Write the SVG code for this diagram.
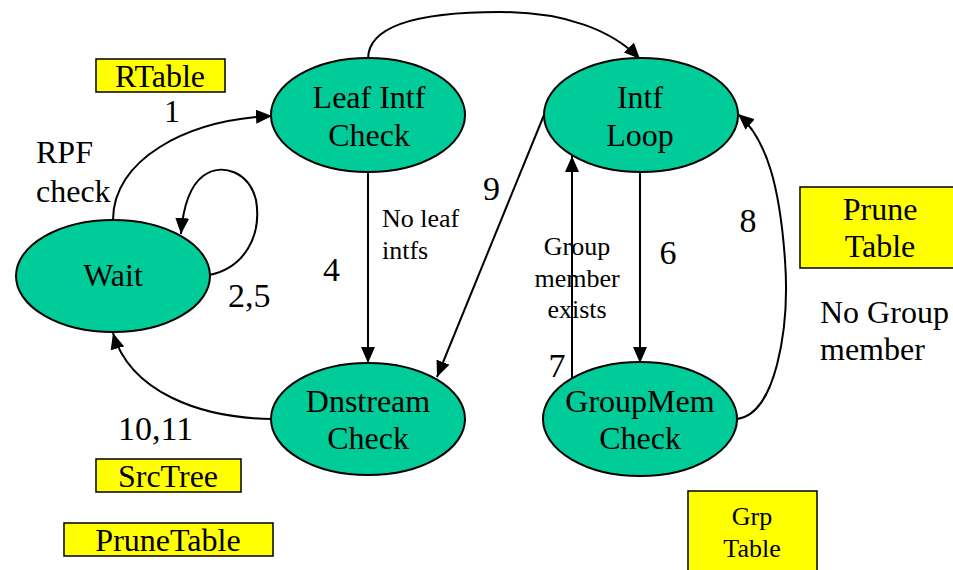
<svg xmlns="http://www.w3.org/2000/svg" width="953" height="570" viewBox="0 0 953 570">
  <style>
    .state { fill: #00CC99; stroke: #000; stroke-width: 2; }
    .table { fill: #FFFF00; stroke: #000; stroke-width: 1.5; }
    .edge { fill: none; stroke: #000; stroke-width: 2; marker-end: url(#arrow); }
    text { font-family: "Liberation Serif", "Times New Roman", serif; fill: #000; }
    .num { font-size: 34px; }
    .big { font-size: 32px; }
    .small { font-size: 26px; }
    .c { text-anchor: middle; }
  </style>
  <defs>
    <marker id="arrow" viewBox="0 0 16 14" refX="16" refY="7" markerWidth="16" markerHeight="14" markerUnits="userSpaceOnUse" orient="auto">
      <path d="M0,0 L16,7 L0,14 Z" fill="#000"/>
    </marker>
  </defs>

  <rect width="953" height="570" fill="#fff"/>

  <!-- transitions -->
  <g id="connectors">
    <path class="edge" d="M113,220 C113,160 185,120 272,116"/>
    <path class="edge" d="M209,275 C245,268 262,235 256,200 C249,172 222,162 203,176 C190,186 183,208 181,234"/>
    <path class="edge" d="M368,59 C368,22 430,12 500,12 C565,12 612,30 640,59"/>
    <path class="edge" d="M368,172 L368,363"/>
    <path class="edge" d="M544,115 L437,377"/>
    <path class="edge" d="M640,172 L640,363"/>
    <path class="edge" d="M572,378 L572,156"/>
    <path class="edge" d="M737,419 C775,415 790,330 785,260 C780,190 768,140 738,114"/>
    <path class="edge" d="M272,419 C200,418 130,392 113,333"/>
  </g>

  <!-- states -->
  <g id="wait">
    <ellipse class="state" cx="113" cy="276" rx="97" ry="56"/>
    <text class="big c" x="113" y="286">Wait</text>
  </g>
  <g id="leaf-intf-check">
    <ellipse class="state" cx="368" cy="115" rx="97" ry="57"/>
    <text class="big c" x="369" y="108">Leaf Intf</text>
    <text class="big c" x="369" y="146">Check</text>
  </g>
  <g id="intf-loop">
    <ellipse class="state" cx="641" cy="115" rx="97" ry="57"/>
    <text class="big c" x="640" y="108">Intf</text>
    <text class="big c" x="640" y="146">Loop</text>
  </g>
  <g id="dnstream-check">
    <ellipse class="state" cx="368" cy="419" rx="97" ry="56"/>
    <text class="big c" x="368" y="412">Dnstream</text>
    <text class="big c" x="368" y="449">Check</text>
  </g>
  <g id="groupmem-check">
    <ellipse class="state" cx="640" cy="419" rx="97" ry="57"/>
    <text class="big c" x="640" y="412">GroupMem</text>
    <text class="big c" x="640" y="449">Check</text>
  </g>

  <!-- tables -->
  <g id="rtable">
    <rect class="table" x="96" y="59" width="129" height="33"/>
    <text class="big c" x="160" y="87">RTable</text>
  </g>
  <g id="prune-table">
    <rect class="table" x="800" y="187" width="160" height="81"/>
    <text class="big c" x="880" y="220">Prune</text>
    <text class="big c" x="880" y="257">Table</text>
  </g>
  <g id="srctree">
    <rect class="table" x="96" y="459" width="145" height="33"/>
    <text class="big c" x="168" y="487">SrcTree</text>
  </g>
  <g id="prunetable">
    <rect class="table" x="64" y="523" width="209" height="33"/>
    <text class="big c" x="168" y="551">PruneTable</text>
  </g>
  <g id="grp-table">
    <rect class="table" x="688" y="491" width="129" height="90"/>
    <text class="small c" x="752" y="525">Grp</text>
    <text class="small c" x="752" y="557">Table</text>
  </g>

  <!-- transition labels -->
  <g id="labels">
    <text class="big c" x="172" y="122">1</text>
    <text class="big" x="36" y="163">RPF</text>
    <text class="big" x="36" y="202">check</text>
    <text class="num" x="228" y="307">2,5</text>
    <text class="num" x="323" y="281">4</text>
    <text class="small" x="382" y="227">No leaf</text>
    <text class="small" x="382" y="259">intfs</text>
    <text class="num" x="483" y="200">9</text>
    <text class="small c" x="577" y="255">Group</text>
    <text class="small c" x="577" y="287">member</text>
    <text class="small c" x="577" y="318">exists</text>
    <text class="num c" x="668" y="264">6</text>
    <text class="num c" x="748" y="232">8</text>
    <text class="num c" x="557" y="377">7</text>
    <text class="big" x="820" y="323">No Group</text>
    <text class="big" x="820" y="360">member</text>
    <text class="num" x="118" y="440">10,11</text>
  </g>
</svg>
